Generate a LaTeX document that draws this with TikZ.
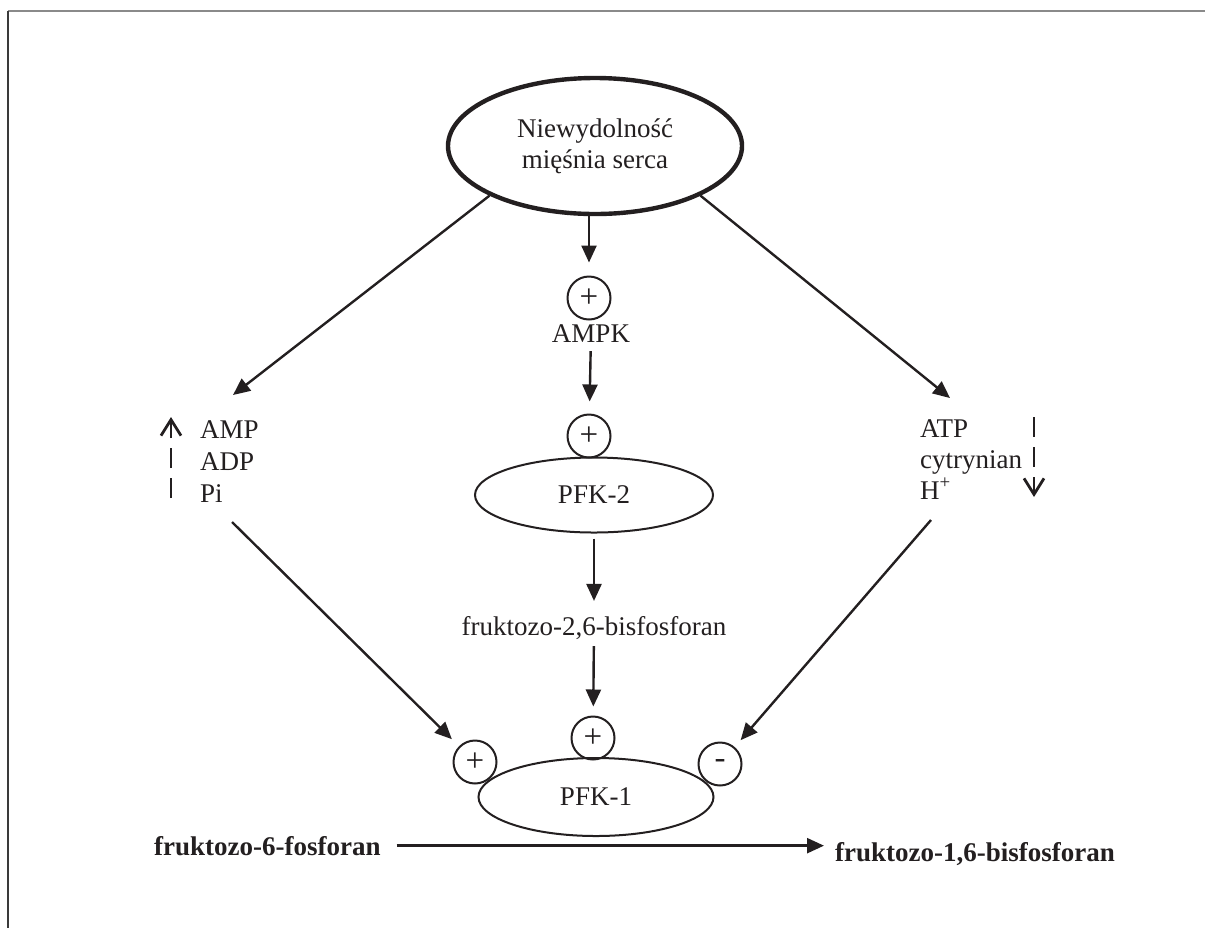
\documentclass[tikz,border=0pt]{standalone}
\usepackage{fontspec}
\setmainfont{Liberation Serif}
\usetikzlibrary{shapes.geometric, arrows.meta}
\definecolor{pfkink}{HTML}{231F20}
\definecolor{pfkgray}{HTML}{8A8A8A}
\definecolor{pfkdark}{HTML}{3A3A3A}

\tikzset{
  arr/.style={pfkink, line width=1.2pt, -{Triangle[length=8.5pt,width=7.5pt]}},
  trend/.style={pfkink, line width=1.4pt, dash pattern=on 10pt off 5pt,
    -{Straight Barb[length=8pt,width=10pt]}},
  effect/.style={circle, draw=pfkink, line width=1pt, minimum size=21.5pt, inner sep=0pt,
    font=\fontsize{16.5}{18}\selectfont},
  enzyme/.style={ellipse, draw=pfkink, line width=1pt, inner sep=0pt},
  boldtxt/.style={font=\fontsize{13.5}{15.5}\selectfont\bfseries}
}

\begin{document}
\begin{tikzpicture}[x=0.5pt, y=-0.5pt,
    every node/.style={text=pfkink, font=\fontsize{13.5}{15.5}\selectfont}]
  \useasboundingbox (0,0) rectangle (1205,928);
  % frame (only the top and left edges are in view)
  \draw[pfkgray, line width=1pt] (8,11) -- (1205,11);
  \draw[pfkdark, line width=1pt] (8,11) -- (8,928);

  % cause
  \node[ellipse, draw=pfkink, line width=2.2pt, minimum width=147pt,
    minimum height=68pt, align=center] (heart) at (595,146)
    {Niewydolność\\mięśnia serca};

  % centre column
  \node[effect] (ampkact) at (589,298) {+};
  \node[anchor=base] (ampk) at (591,342) {AMPK};
  \node[effect] (pfktwoact) at (589,436) {+};
  \node[enzyme, minimum width=119pt, minimum height=37.5pt] (pfktwo) at (594,495) {PFK-2};
  \node[anchor=base] (fbp) at (594,635) {fruktozo-2,6-bisfosforan};
  \node[effect] (fbpact) at (593,738) {+};
  \node[enzyme, minimum width=117.5pt, minimum height=39pt] (pfkone) at (596,797) {PFK-1};
  \node[effect] (ampact) at (475,762) {+};
  \node[effect] (atpinh) at (720,764) {-};

  % left: AMP, ADP, Pi rise
  \node[anchor=base west] (amp) at (193,438) {AMP};
  \node[anchor=base west] (adp) at (193,470) {ADP};
  \node[anchor=base west] (pi) at (193,502) {Pi};
  \draw[trend] (171,498) -- (171,417);

  % right: ATP, citrate, H+ fall
  \node[anchor=base west] (atp) at (913,437) {ATP};
  \node[anchor=base west] (cit) at (913,468) {cytrynian};
  \node[anchor=base west] (hplus) at (913,499) {H\textsuperscript{+}};
  \draw[trend] (1034,417) -- (1034,497);

  % substrate and product
  \node[anchor=base west, boldtxt] (fsix) at (147,855) {fruktozo-6-fosforan};
  \node[anchor=base west, boldtxt] (fonesix) at (828,861) {fruktozo-1,6-bisfosforan};

  \coordinate (upin) at (233,395);
  \coordinate (downin) at (950,398);
  \coordinate (upout) at (232,522);
  \coordinate (downout) at (931,520);

  % connectors
  \draw[arr] (heart.south west) -- (upin);
  \draw[arr] (heart.south east) -- (downin);
  \draw[arr, shorten >=6.5pt] (heart.south -| ampkact) -- (ampkact);
  \draw[arr, shorten <=1pt, shorten >=6pt] (ampk) -- (pfktwoact);
  \draw[arr, shorten <=2.5pt, shorten >=4pt] (pfktwo) -- (fbp);
  \draw[arr, shorten >=4.5pt] (fbp) -- (fbpact);
  \draw[arr, shorten >=5pt] (upout) -- (ampact);
  \draw[arr, shorten >=4.5pt] (downout) -- (atpinh);
  \draw[arr, shorten <=4.5pt, shorten >=2pt] (fsix.east) -- (fsix.east -| fonesix.west);
\end{tikzpicture}
\end{document}
